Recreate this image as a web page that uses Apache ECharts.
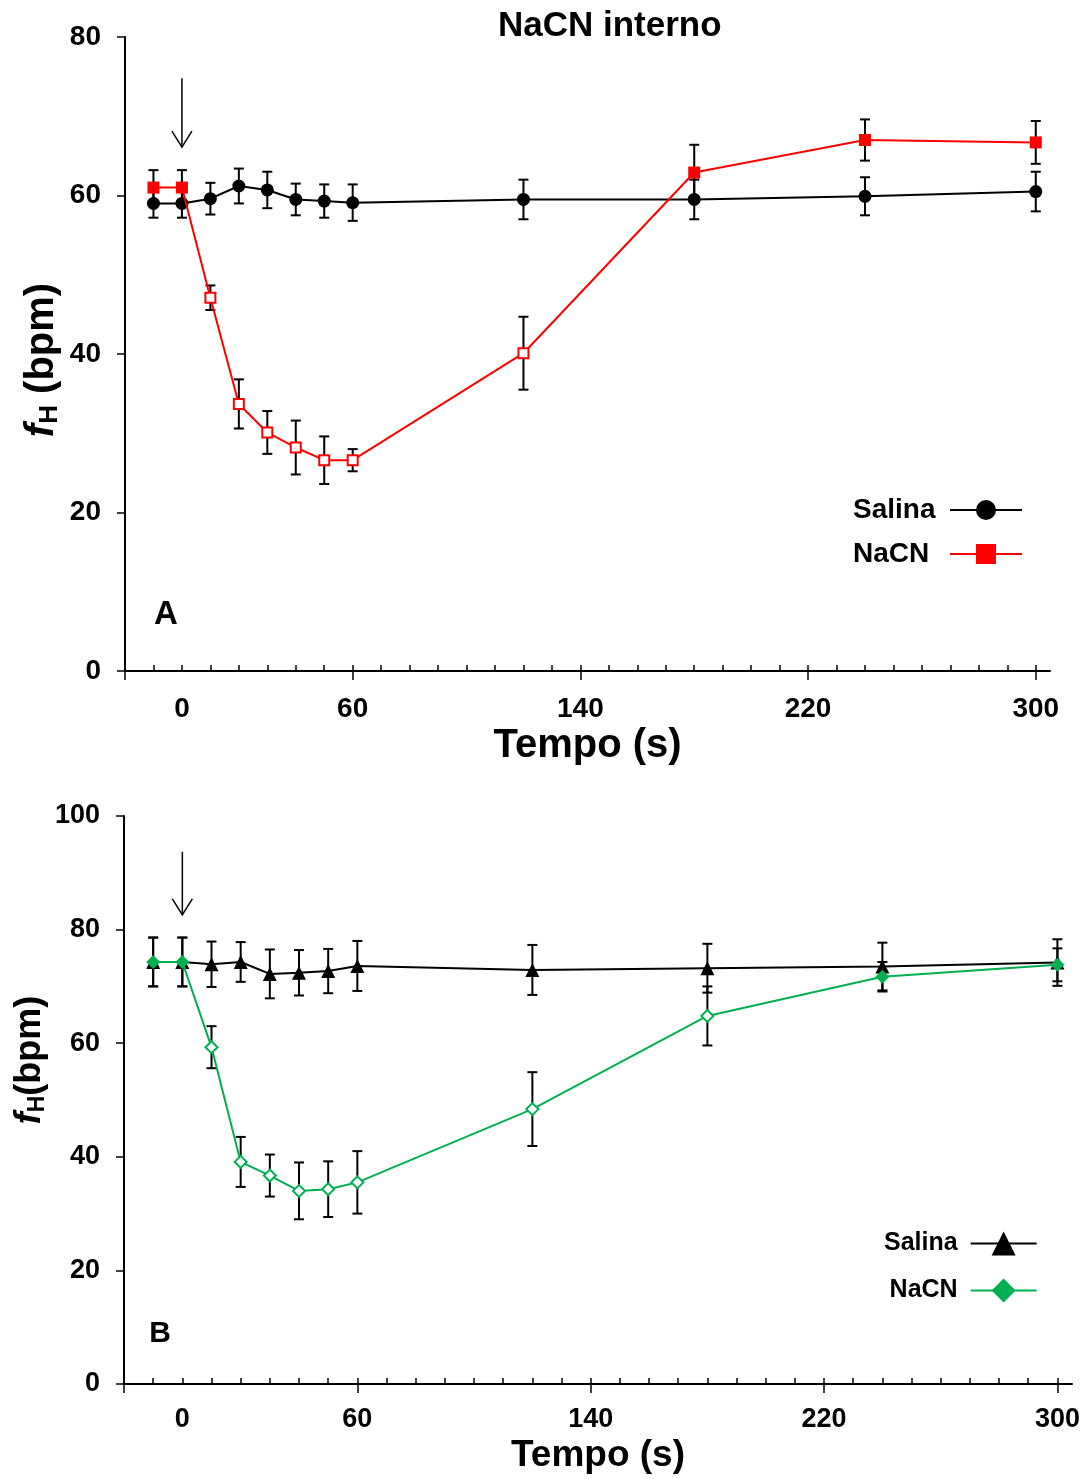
<!DOCTYPE html>
<html><head><meta charset="utf-8">
<script src="https://cdn.jsdelivr.net/npm/echarts@6/dist/echarts.min.js"></script>
<style>html,body{margin:0;padding:0;background:#fff}#c{width:1086px;height:1479px}</style>
</head><body><div id="c"></div>
<script>
// ---- data ----
const timePoints = [-10, 0, 10, 20, 30, 40, 50, 60, 120, 180, 240, 300];

const salinaA    = [59.0, 59.0, 59.6, 61.2, 60.7, 59.5, 59.3, 59.1, 59.5, 59.5, 59.9, 60.5];
const salinaAErr = [1.8, 1.8, 2.0, 2.2, 2.3, 2.0, 2.1, 2.3, 2.5, 2.5, 2.4, 2.5];
const nacnA      = [61.0, 61.0, 47.1, 33.7, 30.1, 28.2, 26.6, 26.6, 40.1, 62.9, 67.0, 66.7];
const nacnAErr   = [2.2, 2.2, 1.55, 3.1, 2.7, 3.4, 3.0, 1.4, 4.6, 3.5, 2.6, 2.7];
const nacnAOpen  = [false, false, true, true, true, true, true, true, true, false, false, false];

const salinaB    = [74.3, 74.3, 73.9, 74.3, 72.2, 72.4, 72.7, 73.6, 72.9, 73.2, 73.5, 74.2];
const salinaBErr = [4.3, 4.3, 4.0, 3.5, 4.3, 4.0, 3.9, 4.4, 4.4, 4.3, 4.2, 4.1];
const nacnB      = [74.3, 74.3, 59.3, 39.1, 36.7, 34.0, 34.3, 35.5, 48.4, 64.8, 71.7, 73.8];
const nacnBErr   = [4.3, 4.3, 3.7, 4.4, 3.7, 5.0, 4.9, 5.5, 6.5, 5.2, 2.6, 2.9];
const nacnBOpen  = [false, false, true, true, true, true, true, true, true, true, false, false];

const xTickLabels = [0, 60, 140, 220, 300];
const xMajorTicks = [-20, 60, 140, 220, 300];
const arrowA = [0, 74.8, 66.1];
const arrowB = [0, 93.7, 82.6];

// ---- helpers ----
const FONT = 'Liberation Sans, Arial, sans-serif';
const RED = '#ff0000', GREEN = '#00b050';
const xMinorTicks = [];
for (let v = -20; v <= 300; v += 10) xMinorTicks.push(v);

function pairs(ys) { return timePoints.map((x, i) => [x, ys[i]]); }
function errData(ys, es) { return timePoints.map((x, i) => [x, ys[i] - es[i], ys[i] + es[i]]); }
function markerData(ys, open, color, size) {
  return timePoints.map((x, i) => open[i]
    ? { value: [x, ys[i]], symbolSize: size - 2, itemStyle: { color: '#fff', borderColor: color, borderWidth: 2 } }
    : { value: [x, ys[i]] });
}
function errRender(params, api) {
  const x = api.value(0), lo = api.value(1), hi = api.value(2);
  const a = api.coord([x, hi]), b = api.coord([x, lo]);
  const w = 5, st = { stroke: '#000', lineWidth: 2 };
  return { type: 'group', children: [
    { type: 'line', shape: { x1: a[0], y1: a[1], x2: b[0], y2: b[1] }, style: st },
    { type: 'line', shape: { x1: a[0] - w, y1: a[1], x2: a[0] + w, y2: a[1] }, style: st },
    { type: 'line', shape: { x1: b[0] - w, y1: b[1], x2: b[0] + w, y2: b[1] }, style: st }
  ]};
}
function arrowRender(params, api) {
  const x = api.value(0);
  const a = api.coord([x, api.value(1)]), b = api.coord([x, api.value(2)]);
  const st = { stroke: '#000', lineWidth: 1.5, fill: null };
  return { type: 'group', children: [
    { type: 'line', shape: { x1: a[0], y1: a[1], x2: b[0], y2: b[1] }, style: st },
    { type: 'polyline', shape: { points: [[b[0] - 10, b[1] - 16], [b[0], b[1]], [b[0] + 10, b[1] - 16]] }, style: st }
  ]};
}
function xAxes(gridIndex, labelSize, margin, nameSize, nameGap) {
  return [
    { type: 'value', gridIndex, min: -20, max: 305, position: 'bottom',
      axisLine: { show: true, onZero: false, lineStyle: { color: '#000', width: 2 } },
      axisTick: { show: true, inside: true, length: 6, customValues: xMinorTicks, lineStyle: { color: '#000', width: 1.5 } },
      axisLabel: { show: true, customValues: xTickLabels, margin, fontSize: labelSize, fontWeight: 'bold', color: '#000', fontFamily: FONT },
      splitLine: { show: false },
      name: 'Tempo (s)', nameLocation: 'middle', nameGap,
      nameTextStyle: { fontSize: nameSize, fontWeight: 'bold', color: '#000', fontFamily: FONT } },
    { type: 'value', gridIndex, min: -20, max: 305, position: 'bottom',
      axisLine: { show: false, onZero: false },
      axisTick: { show: true, inside: false, length: 9, customValues: xMajorTicks, lineStyle: { color: '#000', width: 1.5 } },
      axisLabel: { show: false }, splitLine: { show: false } }
  ];
}
function yAxis(gridIndex, max, size) {
  return { type: 'value', gridIndex, min: 0, max, interval: 20,
    axisLine: { show: true, onZero: false, lineStyle: { color: '#000', width: 2 } },
    axisTick: { show: true, inside: false, length: 8, lineStyle: { color: '#000', width: 1.5 } },
    axisLabel: { margin: 24, fontSize: size, fontWeight: 'bold', color: '#000', fontFamily: FONT },
    splitLine: { show: false } };
}

const option = {
  backgroundColor: '#fff',
  animation: false,
  title: { text: 'NaCN interno', left: 493, top: 4,
    textStyle: { fontSize: 35, fontWeight: 'bold', color: '#000', fontFamily: FONT } },
  grid: [
    { left: 125, right: 36, top: 37, bottom: 808 },
    { left: 124, right: 14, top: 816, bottom: 95 }
  ],
  xAxis: [...xAxes(0, 28, 24, 40, 55), ...xAxes(1, 27, 22, 37, 53)],
  yAxis: [yAxis(0, 80, 28), yAxis(1, 100, 27)],
  legend: [
    { data: ['Salina', 'NaCN'], orient: 'vertical', left: 848, top: 491, align: 'right',
      itemWidth: 72, itemHeight: 25, itemGap: 16, selectedMode: false,
      formatter: name => '{t|' + name + '}',
      textStyle: { color: '#000', rich: { t: { fontSize: 28, fontWeight: 'bold', color: '#000', fontFamily: FONT, width: 92, align: 'left' } } } },
    { data: ['Salina ', 'NaCN '], orient: 'vertical', left: 879, top: 1226, align: 'right',
      itemWidth: 66, itemHeight: 30, itemGap: 22, selectedMode: false,
      formatter: name => '{t|' + name.trim() + '}',
      textStyle: { color: '#000', rich: { t: { fontSize: 25, fontWeight: 'bold', color: '#000', fontFamily: FONT, width: 80, align: 'right', padding: [0, 8, 0, 0] } } } }
  ],
  graphic: [
    { type: 'text', x: 42, y: 360, rotation: Math.PI / 2,
      style: { text: '{i|f}{s|H}{n| (bpm)}', align: 'center', verticalAlign: 'middle', fill: '#000',
        rich: { i: { fontSize: 40, fontStyle: 'italic', fontWeight: 'bold', fontFamily: FONT },
                s: { fontSize: 26, fontWeight: 'bold', fontFamily: FONT, verticalAlign: 'bottom', padding: [16, 0, 0, 0] },
                n: { fontSize: 40, fontWeight: 'bold', fontFamily: FONT } } } },
    { type: 'text', x: 30, y: 1060, rotation: Math.PI / 2,
      style: { text: '{i|f}{s|H}{n|(bpm)}', align: 'center', verticalAlign: 'middle', fill: '#000',
        rich: { i: { fontSize: 36, fontStyle: 'italic', fontWeight: 'bold', fontFamily: FONT },
                s: { fontSize: 23, fontWeight: 'bold', fontFamily: FONT, verticalAlign: 'bottom', padding: [15, 0, 0, 0] },
                n: { fontSize: 36, fontWeight: 'bold', fontFamily: FONT } } } },
    { type: 'text', x: 166, y: 615, style: { text: 'A', fontSize: 33, fontWeight: 'bold', fontFamily: FONT, fill: '#000', align: 'center', verticalAlign: 'middle' } },
    { type: 'text', x: 160, y: 1334, style: { text: 'B', fontSize: 30, fontWeight: 'bold', fontFamily: FONT, fill: '#000', align: 'center', verticalAlign: 'middle' } }
  ],
  series: [
    // Panel A
    { type: 'custom', xAxisIndex: 0, yAxisIndex: 0, renderItem: errRender, data: errData(salinaA, salinaAErr), encode: { x: 0, y: [1, 2] }, z: 1, silent: true },
    { type: 'custom', xAxisIndex: 0, yAxisIndex: 0, renderItem: errRender, data: errData(nacnA, nacnAErr), encode: { x: 0, y: [1, 2] }, z: 1, silent: true },
    { type: 'custom', xAxisIndex: 0, yAxisIndex: 0, renderItem: arrowRender, data: [arrowA], encode: { x: 0, y: [1, 2] }, z: 1, silent: true },
    { name: 'Salina', type: 'line', xAxisIndex: 0, yAxisIndex: 0, data: pairs(salinaA), z: 3,
      symbol: 'circle', symbolSize: 13, itemStyle: { color: '#000' }, lineStyle: { color: '#000', width: 2 } },
    { name: 'NaCN', type: 'line', xAxisIndex: 0, yAxisIndex: 0, data: markerData(nacnA, nacnAOpen, RED, 12), z: 4,
      symbol: 'rect', symbolSize: 12, itemStyle: { color: RED }, lineStyle: { color: RED, width: 2 } },
    // Panel B
    { type: 'custom', xAxisIndex: 2, yAxisIndex: 1, renderItem: errRender, data: errData(salinaB, salinaBErr), encode: { x: 0, y: [1, 2] }, z: 1, silent: true },
    { type: 'custom', xAxisIndex: 2, yAxisIndex: 1, renderItem: errRender, data: errData(nacnB, nacnBErr), encode: { x: 0, y: [1, 2] }, z: 1, silent: true },
    { type: 'custom', xAxisIndex: 2, yAxisIndex: 1, renderItem: arrowRender, data: [arrowB], encode: { x: 0, y: [1, 2] }, z: 1, silent: true },
    { name: 'Salina ', type: 'line', xAxisIndex: 2, yAxisIndex: 1, data: pairs(salinaB), z: 3,
      symbol: 'triangle', symbolSize: 14, itemStyle: { color: '#000' }, lineStyle: { color: '#000', width: 2 } },
    { name: 'NaCN ', type: 'line', xAxisIndex: 2, yAxisIndex: 1, data: markerData(nacnB, nacnBOpen, GREEN, 14), z: 4,
      symbol: 'diamond', symbolSize: 14, itemStyle: { color: GREEN }, lineStyle: { color: GREEN, width: 2 } }
  ]
};

const chart = echarts.init(document.getElementById('c'), null, { renderer: 'canvas' });
chart.setOption(option);
</script>
</body></html>
